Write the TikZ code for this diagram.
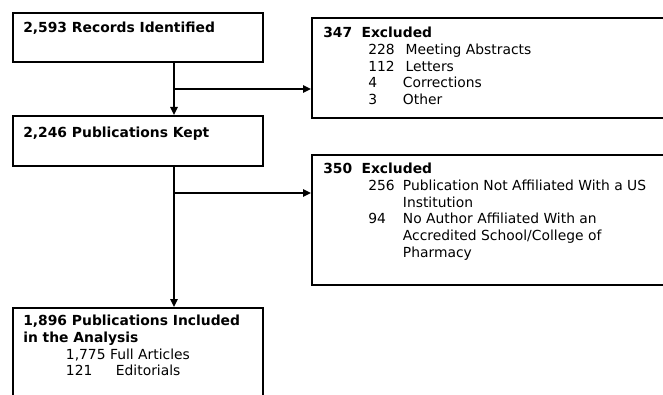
\documentclass[tikz,border=0pt]{standalone}
\usepackage{fontspec}
\setmainfont{DejaVu Sans}
\usetikzlibrary{arrows.meta}

\tikzset{
  flowbox/.style={draw,line width=1.3pt,anchor=north west,inner sep=0pt,minimum width=187.5pt},
  boxtext/.style={anchor=north west,inner sep=0pt,align=left,font=\fontsize{10.4}{12.5}\selectfont},
  flowarrow/.style={line width=1.4pt,-{Triangle[length=6pt,width=5.5pt]}},
}

\begin{document}
\begin{tikzpicture}[x=0.75pt,y=-0.75pt]
  \clip (0,0) rectangle (663,395);
  % boxes
  \node[flowbox,minimum height=36.75pt] (recbox) at (12,12) {};
  \node[flowbox,minimum height=37.5pt] (keptbox) at (12,115) {};
  \node[flowbox,minimum height=70pt] (inclbox) at (12,307) {};
  \node[flowbox,minimum width=270pt,minimum height=75pt] (exclboxA) at (311,17) {};
  \node[flowbox,minimum width=270pt,minimum height=97.5pt] (exclboxB) at (311,154) {};
  % texts
  \node[boxtext] (rectext) at (23,22) {\textbf{2,593 Records Identified}};
  \node[boxtext] (kepttext) at (23,127) {\textbf{2,246 Publications Kept}};
  \node[boxtext] (excltextA) at (323,27) {\textbf{347\hspace{7pt}Excluded}\\
    \hspace*{33.75pt}\makebox[28pt][l]{228}Meeting Abstracts\\
    \hspace*{33.75pt}\makebox[28pt][l]{112}Letters\\
    \hspace*{33.75pt}\makebox[26pt][l]{4}Corrections\\
    \hspace*{33.75pt}\makebox[26pt][l]{3}Other};
  \node[boxtext] (excltextB) at (323,163) {\textbf{350\hspace{7pt}Excluded}\\
    \hspace*{33.75pt}\makebox[26pt][l]{256}Publication Not Affiliated With a US\\
    \hspace*{59.75pt}Institution\\
    \hspace*{33.75pt}\makebox[26pt][l]{94}No Author Affiliated With an\\
    \hspace*{59.75pt}Accredited School/College of\\
    \hspace*{59.75pt}Pharmacy};
  \node[boxtext] (incltext) at (23,315) {\textbf{1,896 Publications Included}\\
    \textbf{in the Analysis}\\
    \hspace*{32pt}1,775 Full Articles\\
    \hspace*{32pt}\makebox[37.5pt][l]{121}Editorials};
  % connectors
  \coordinate (splitA) at (174,89);
  \coordinate (splitB) at (174,193);
  \draw[flowarrow] (recbox.south -| splitA) -- (keptbox.north -| splitA);
  \draw[flowarrow] (splitA) -- (splitA -| exclboxA.west);
  \draw[flowarrow] (keptbox.south -| splitB) -- (inclbox.north -| splitB);
  \draw[flowarrow] (splitB) -- (splitB -| exclboxB.west);
\end{tikzpicture}
\end{document}
